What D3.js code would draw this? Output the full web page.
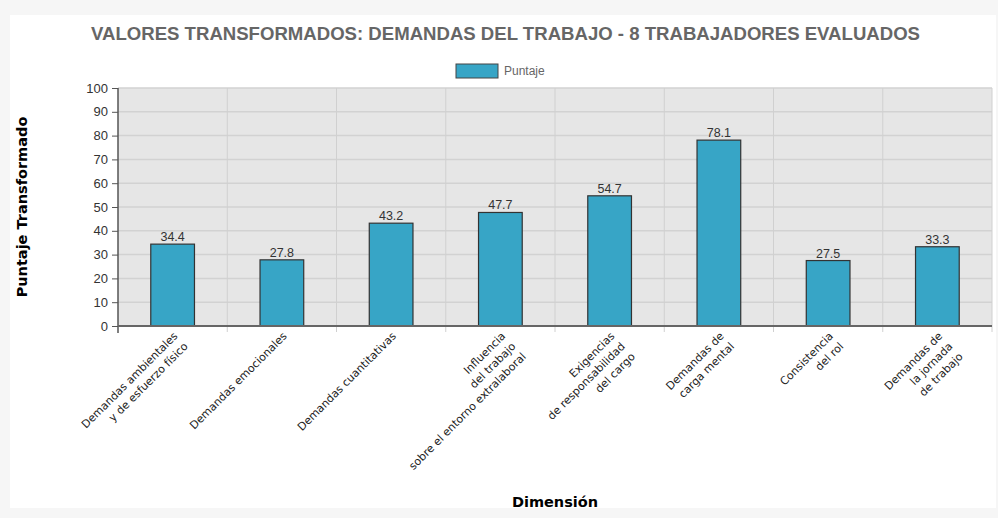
<!DOCTYPE html>
<html>
<head>
<meta charset="utf-8">
<script src="https://cdn.jsdelivr.net/npm/d3@7"></script>
<style>
  html, body { margin: 0; padding: 0; background: #f6f6f6; }
  svg { display: block; }
</style>
</head>
<body>
<svg class="svg"></svg>
<script>
const categories = [
  ['Demandas ambientales', 'y de esfuerzo físico'],
  ['Demandas emocionales'],
  ['Demandas cuantitativas'],
  ['Influencia', 'del trabajo', 'sobre el entorno extralaboral'],
  ['Exigencias', 'de responsabilidad', 'del cargo'],
  ['Demandas de', 'carga mental'],
  ['Consistencia', 'del rol'],
  ['Demandas de', 'la jornada', 'de trabajo']
];
const values = [34.4, 27.8, 43.2, 47.7, 54.7, 78.1, 27.5, 33.3];
const yTicks = [0, 10, 20, 30, 40, 50, 60, 70, 80, 90, 100];
const title = 'VALORES TRANSFORMADOS: DEMANDAS DEL TRABAJO - 8 TRABAJADORES EVALUADOS';
const seriesName = 'Puntaje';

const width = 998;
const height = 518;
const margin = { top: 88, right: 6, bottom: 192, left: 118 };
const barColor = '#37a5c6';

const svg = d3.select('.svg').attr('width', width).attr('height', height);

// white card
svg.append('rect')
  .attr('x', 10).attr('y', 15)
  .attr('width', 986).attr('height', 493)
  .attr('fill', '#fff');

// title, squeezed to look condensed
svg.append('text')
  .attr('x', 505.5).attr('y', 40)
  .attr('text-anchor', 'middle')
  .attr('font-family', '"Liberation Sans", Arial, sans-serif')
  .attr('font-weight', 'bold')
  .attr('font-size', 19)
  .attr('fill', '#666')
  .attr('textLength', 829)
  .attr('lengthAdjust', 'spacingAndGlyphs')
  .text(title);

// legend
const legend = svg.append('g').attr('transform', 'translate(456,64)');
legend.append('rect')
  .attr('width', 42).attr('height', 14)
  .attr('fill', barColor).attr('stroke', '#444').attr('stroke-width', 1);
legend.append('text')
  .attr('x', 48).attr('y', 7).attr('dy', '0.35em')
  .attr('font-family', '"Liberation Sans", Arial, sans-serif')
  .attr('font-size', 12).attr('fill', '#666')
  .text(seriesName);

const x = d3.scaleBand()
  .domain(d3.range(categories.length))
  .range([margin.left, width - margin.right])
  .paddingInner(0.6)
  .paddingOuter(0.3);

const y = d3.scaleLinear()
  .domain([0, 100])
  .range([height - margin.bottom, margin.top]);

const plotW = width - margin.right - margin.left;
const plotH = y(0) - y(100);

svg.append('rect')
  .attr('x', margin.left).attr('y', y(100))
  .attr('width', plotW).attr('height', plotH)
  .attr('fill', '#e6e6e6');

// horizontal grid
svg.append('g')
  .selectAll('line')
  .data(yTicks.filter(d => d > 0))
  .join('line')
  .attr('x1', margin.left).attr('x2', width - margin.right)
  .attr('y1', d => y(d)).attr('y2', d => y(d))
  .attr('stroke', '#d2d2d2').attr('stroke-width', 1.5);

// vertical grid at band boundaries
const step = x.step();
svg.append('g')
  .selectAll('line')
  .data(d3.range(1, categories.length + 1))
  .join('line')
  .attr('x1', i => margin.left + i * step).attr('x2', i => margin.left + i * step)
  .attr('y1', y(100)).attr('y2', y(0) + 6)
  .attr('stroke', '#d0d0d0').attr('stroke-width', 1);

// bars
svg.append('g')
  .selectAll('rect')
  .data(values)
  .join('rect')
  .attr('x', (d, i) => x(i))
  .attr('y', d => y(d))
  .attr('width', x.bandwidth())
  .attr('height', d => y(0) - y(d))
  .attr('fill', barColor)
  .attr('stroke', '#333')
  .attr('stroke-width', 1.2);

svg.append('g')
  .selectAll('text')
  .data(values)
  .join('text')
  .attr('x', (d, i) => x(i) + x.bandwidth() / 2)
  .attr('y', d => y(d) - 3)
  .attr('text-anchor', 'middle')
  .attr('font-family', '"Liberation Sans", Arial, sans-serif')
  .attr('font-size', 12.5)
  .attr('fill', '#333')
  .text(d => d.toFixed(1));

// y axis
const yAxis = svg.append('g')
  .attr('transform', `translate(${margin.left},0)`)
  .call(d3.axisLeft(y).tickValues(yTicks).tickSize(6).tickPadding(4));
yAxis.select('.domain').remove();
yAxis.selectAll('.tick line').attr('stroke', '#555');
yAxis.selectAll('.tick text')
  .attr('font-family', '"Liberation Sans", Arial, sans-serif')
  .attr('font-size', 13)
  .attr('fill', '#333');
svg.append('line')
  .attr('x1', margin.left).attr('x2', margin.left)
  .attr('y1', y(100)).attr('y2', y(0) + 7)
  .attr('stroke', '#555').attr('stroke-width', 1.5);

// x axis line
svg.append('line')
  .attr('x1', margin.left).attr('x2', width - margin.right)
  .attr('y1', y(0)).attr('y2', y(0))
  .attr('stroke', '#666').attr('stroke-width', 2);

// x tick labels, rotated, multi-line
const lineH = 14.5;
const xLabels = svg.append('g')
  .selectAll('text')
  .data(categories)
  .join('text')
  .attr('transform', (d, i) => `translate(${x(i) + x.bandwidth() / 2 + 3},${y(0) + 8}) rotate(-45)`)
  .attr('text-anchor', 'end')
  .attr('font-family', '"DejaVu Sans", Verdana, sans-serif')
  .attr('font-size', 11)
  .attr('fill', '#222');
xLabels.selectAll('tspan')
  .data(d => d)
  .join('tspan')
  .attr('x', 0)
  .attr('y', (d, i) => i * lineH)
  .attr('dy', '0.35em')
  .text(d => d);

// axis titles
svg.append('text')
  .attr('transform', `translate(27,${(y(0) + y(100)) / 2}) rotate(-90)`)
  .attr('text-anchor', 'middle')
  .attr('font-family', '"DejaVu Sans", Verdana, sans-serif')
  .attr('font-weight', 'bold')
  .attr('font-size', 14.5)
  .attr('fill', '#000')
  .text('Puntaje Transformado');

svg.append('text')
  .attr('x', margin.left + plotW / 2).attr('y', 507)
  .attr('text-anchor', 'middle')
  .attr('font-family', '"DejaVu Sans", Verdana, sans-serif')
  .attr('font-weight', 'bold')
  .attr('font-size', 14.5)
  .attr('fill', '#000')
  .text('Dimensión');
</script>
</body>
</html>
